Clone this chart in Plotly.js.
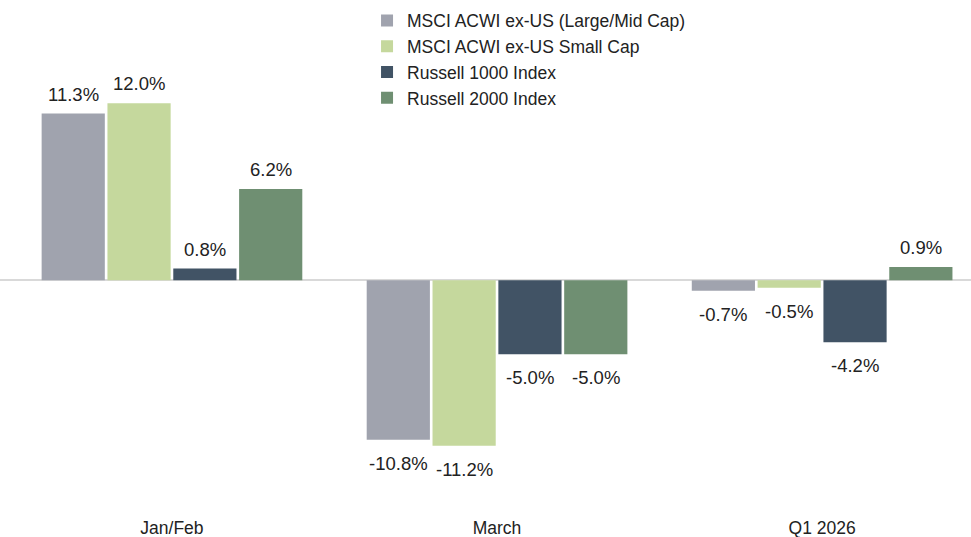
<!DOCTYPE html>
<html>
<head>
<meta charset="utf-8">
<script src="https://cdn.plot.ly/plotly-3.0.1.min.js"></script>
<style>
  html, body { margin: 0; padding: 0; background: #fff; }
  #chart { width: 971px; height: 537px; }
</style>
</head>
<body>
<div id="chart"></div>
<script>
// periods on the x axis
const periods = ["Jan/Feb", "March", "Q1 2026"];

// total returns, %
const acwiExUs = [11.3, -10.8, -0.7];
const acwiSmall = [12.0, -11.2, -0.5];
const russell1000 = [0.8, -5.0, -4.2];
const russell2000 = [6.2, -5.0, 0.9];

const names = [
  "MSCI ACWI ex-US (Large/Mid Cap)",
  "MSCI ACWI ex-US Small Cap",
  "Russell 1000 Index",
  "Russell 2000 Index"
];
const colors = ["#a0a3ae", "#c5d89d", "#415365", "#6f8f72"];
const series = [acwiExUs, acwiSmall, russell1000, russell2000];

const FONT = "'Liberation Sans Narrow', 'Arial Narrow', 'Liberation Sans', Arial, sans-serif";
const BARGAP = 0.19;
const GROUPGAP = 0.04;

const data = series.map((vals, i) => ({
  type: "bar",
  x: periods,
  y: vals,
  name: names[i],
  marker: { color: colors[i], line: { width: 0 } },
  hoverinfo: "x+y+name"
}));

// value labels, placed at each bar's centre via the grouped-bar slot width
const slot = (1 - BARGAP) / series.length;
const annotations = [];
series.forEach((vals, i) => {
  vals.forEach((v, k) => {
    annotations.push({
      xref: "x",
      yref: "y",
      x: k + (i - (series.length - 1) / 2) * slot,
      y: v,
      text: v.toFixed(1) + "%",
      showarrow: false,
      xanchor: "center",
      yanchor: "middle",
      yshift: v >= 0 ? 19.5 : -23.5,
      font: { family: FONT, size: 18.5, color: "#222" }
    });
  });
});

const layout = {
  width: 971,
  height: 537,
  margin: { l: 0, r: 0, t: 0, b: 22 },
  paper_bgcolor: "#fff",
  plot_bgcolor: "#fff",
  barmode: "group",
  bargap: BARGAP,
  bargroupgap: GROUPGAP,
  font: { family: FONT, size: 17.5, color: "#222" },
  showlegend: true,
  legend: {
    x: 0.378,
    y: 0.995,
    xanchor: "left",
    yanchor: "top",
    font: { family: FONT, size: 17.5, color: "#222" },
    bgcolor: "rgba(0,0,0,0)",
    itemwidth: 30,
    traceorder: "normal"
  },
  xaxis: {
    type: "category",
    range: [-0.529, 2.458],
    showgrid: false,
    showline: false,
    zeroline: false,
    ticks: "",
    tickfont: { family: FONT, size: 17.5, color: "#222" }
  },
  yaxis: {
    range: [-15.9, 19.0],
    showgrid: false,
    showticklabels: false,
    zeroline: true,
    zerolinecolor: "#d9d9d9",
    zerolinewidth: 2,
    showline: false
  },
  annotations: annotations
};

Plotly.newPlot("chart", data, layout, { displayModeBar: false, staticPlot: true });
</script>
</body>
</html>
